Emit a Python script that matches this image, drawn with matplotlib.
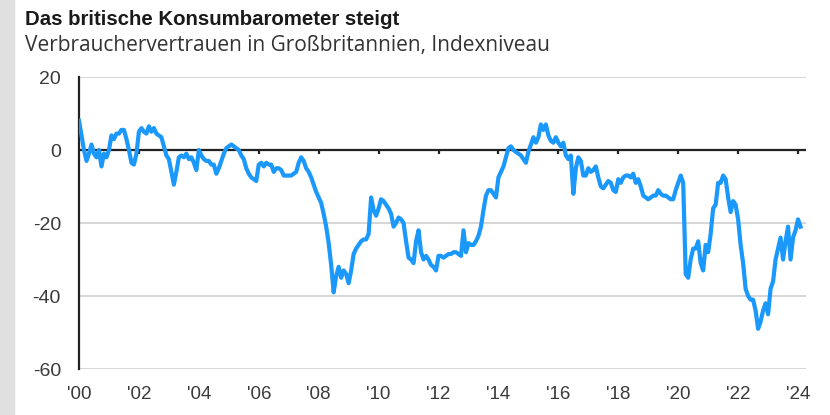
import matplotlib
matplotlib.use("Agg")
import matplotlib.pyplot as plt
import matplotlib.patches as mpatches
import numpy as np

# GfK Verbrauchervertrauen UK, Monatswerte ab Jan 2000
values_2000s = [
    8, 4, 0, -3, -1, 1.5, -1, -2, 0, -4.5, -1, -2,            # 2000
    0, 4, 3, 4.5, 4.5, 5.5, 5.5, 3, 0, -3.5, -4, -1,           # 2001
    5, 6, 5, 4.5, 6.5, 5, 6, 4.5, 4, 3.5, 1, -1.5,             # 2002
    -2.5, -6, -9.5, -6, -2, -1.5, -2, -1, -2.5, -2, -3.5, -5.5,  # 2003
    0, -1.5, -2.5, -3, -3, -4, -4, -6.5, -5, -3, -1, 0.5,      # 2004
    1, 1.5, 1, 0.5, 0, -1.5, -2.5, -5, -6.5, -7.5, -8, -8.5,   # 2005
    -4, -3.5, -4.5, -3.5, -4, -4, -6, -5, -5, -5.5, -7, -7,    # 2006
    -7, -7, -6.5, -6, -3.5, -2, -3, -5, -6, -7.5, -9.5, -11.5,  # 2007
    -13, -14.5, -17.5, -21, -25.5, -31.5, -39, -34.5, -32, -35, -33, -34,  # 2008
    -36.5, -33, -28.5, -27, -26, -25, -24.5, -24.5, -23, -13, -16.5, -18,  # 2009
]
values_2010s = [
    -16, -13.5, -14, -15, -16, -17.5, -21, -20, -18.5, -19, -20, -25,  # 2010
    -29.5, -30, -31, -25, -22, -28, -30, -29, -30, -31.5, -32, -33,    # 2011
    -29, -29, -29.5, -29, -28.5, -28.5, -28, -28, -28.5, -29, -22, -28,  # 2012
    -25.5, -26, -26, -25, -23.5, -21, -16.5, -12.5, -11, -11, -12, -13,  # 2013
    -7.5, -6, -4.5, -2, 0.5, 1, 0, -0.5, -1, -1.5, -2.5, -3.5,         # 2014
    -0.5, 1.5, 3.5, 2, 3.5, 7, 5.5, 7, 4, 2.5, 2, 3.5,                 # 2015
    2, 1, 2, -1.5, -2.5, -1.5, -12, -5, -2, -3, -7, -7,                # 2016
    -5, -6, -5.5, -4.5, -7.5, -10, -10.5, -9.5, -8.5, -9, -11, -11.5,  # 2017
    -8, -9, -7.5, -7, -7, -7.5, -6.5, -9, -8, -10, -12.5, -13,         # 2018
    -13.5, -13, -12.5, -12.5, -11, -12, -12.5, -12.5, -13, -13.5, -13.5, -11,  # 2019
]
values_2020s = [
    -9, -7, -9, -34, -35, -30, -27, -27, -25, -31, -33, -26,     # 2020
    -28, -23, -16, -15, -9, -9, -7, -8, -13, -17, -14, -15,      # 2021
    -19, -26, -31, -38, -40, -41, -41, -44, -49, -47, -44, -42,  # 2022
    -45, -38, -36, -30, -27, -24, -30, -25, -21, -30, -24, -22,  # 2023
    -19, -21,                                                    # 2024
]

tick_years = list(range(2000, 2025, 2))
tick_labels = ["'%02d" % (y % 100) for y in tick_years]
y_ticks = [20, 0, -20, -40, -60]

values = values_2000s + values_2010s + values_2020s
dates = 2000 + np.arange(len(values)) / 12.0

plt.rcParams['font.family'] = ['Liberation Sans', 'DejaVu Sans']

fig = plt.figure(figsize=(8.3, 4.15), dpi=100)
fig.patches.append(mpatches.Rectangle((0, 0), 14/830, 1, transform=fig.transFigure,
                                      color='#e0e0e0', zorder=0))

ax = fig.add_axes([79/830, 1 - 369/415, (806 - 79)/830, (369 - 77)/415])
ax.set_xlim(2000, 2000 + (806 - 79) / 29.96)
ax.set_ylim(-60, 20)

for y in y_ticks:
    if y != 0:
        ax.axhline(y, color='#cfcfcf', lw=1.2, zorder=1)
ax.axhline(0, color='#222222', lw=1.6, zorder=2)
ax.vlines(tick_years[1:], -1.2, 0, color='#222222', lw=1.6, zorder=2)

ax.plot(dates, values, color='#1a98fb', lw=3.0, solid_joinstyle='round', zorder=3)

for s in ['top', 'right', 'bottom']:
    ax.spines[s].set_visible(False)
ax.spines['left'].set_color('#222222')
ax.spines['left'].set_linewidth(1.6)

ax.set_yticks(y_ticks)
ax.set_yticklabels([str(v) for v in y_ticks])
ax.set_xticks(tick_years)
ax.set_xticklabels(tick_labels)
ax.tick_params(axis='y', length=0, pad=13, labelsize=14, labelcolor='#3a3a3a')
ax.tick_params(axis='x', length=0, pad=12, labelsize=13.5, labelcolor='#3a3a3a')

fig.text(25/830, 1 - 25/415, "Das britische Konsumbarometer steigt",
         fontsize=14.7, fontweight='bold', color='#1a1a1a', va='baseline')
fig.text(25/830, 1 - 51/415, "Verbrauchervertrauen in Großbritannien, Indexniveau",
         fontsize=15, family=['Open Sans', 'DejaVu Sans'], color='#333333',
         va='baseline')

fig.savefig("out.png", dpi=100)
